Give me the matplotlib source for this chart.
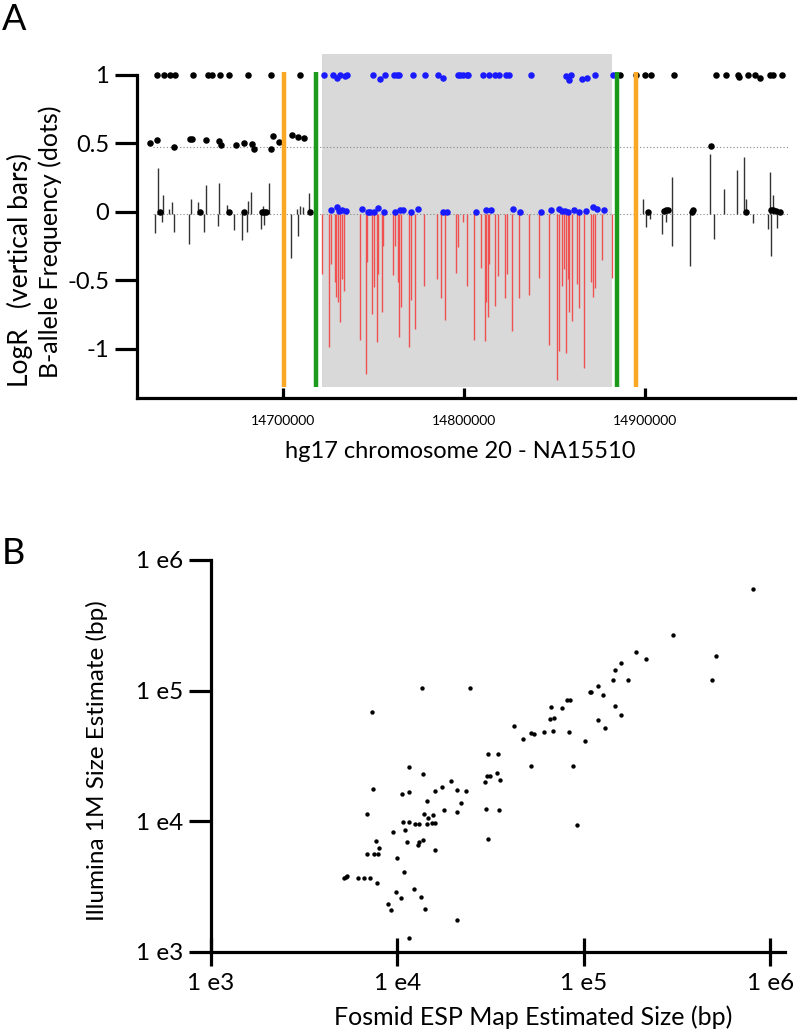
import numpy as np
import matplotlib
matplotlib.use("Agg")
import matplotlib.pyplot as plt

plt.rcParams['font.family'] = ['Lato', 'DejaVu Sans']

# ---------------- panel A data (hg17 chr20, NA15510) ----------------
# B-allele frequency, black dots (outside the deletion)
baf_black_pos = [14630800, 14634700, 14637800, 14640600, 14650400, 14658600, 14660800,
                 14665600, 14670500, 14681000, 14693700, 14709700,
                 14626600, 14630500, 14640200, 14649000, 14649800, 14657900, 14664700,
                 14666000, 14674400, 14678700, 14682900, 14684000, 14693500, 14694800,
                 14698100, 14705300, 14708600, 14711900,
                 14632200, 14654400, 14670200, 14678700, 14688700, 14689900, 14690800,
                 14715200,
                 14886200, 14894700, 14899800, 14903300, 14915800, 14939200, 14944400,
                 14951100, 14951900, 14956700, 14960400, 14963100, 14968600, 14970600,
                 14975600,
                 14936400,
                 14901500, 14910500, 14911600, 14912400, 14925800, 14926300, 14955400,
                 14969300, 14970600, 14971900, 14974100]
baf_black_val = [1, 1, 1, 1, 1, 1, 1, 1, 1, 1, 1, 1,
                 0.499, 0.521, 0.474, 0.531, 0.531, 0.526, 0.516, 0.485, 0.489, 0.504,
                 0.494, 0.460, 0.460, 0.550, 0.509, 0.560, 0.545, 0.536,
                 0, 0, 0, 0, 0, 0, 0, 0,
                 1, 1, 1, 1, 0.996, 1, 1, 1, 0.985, 1, 1, 0.978, 1, 1, 1,
                 0.477,
                 0, 0.008, 0.01, 0.015, 0, 0.01, 0, 0.01, 0.01, 0.005, 0]

# B-allele frequency, blue dots (inside the deletion)
baf_blue_pos = [14722900, 14727600, 14730100, 14731800, 14734400, 14735600, 14750000,
                14753500, 14756400, 14761400, 14762900, 14764300, 14772000, 14778700,
                14785800, 14788600, 14796500, 14797800, 14799600, 14801500, 14802400,
                14810300, 14814000, 14816900, 14819300, 14823200, 14825000, 14837000,
                14856300, 14857900, 14858900, 14864900, 14867700, 14872100, 14882400,
                14726600, 14730100, 14730900, 14732900, 14734900, 14743700, 14746900,
                14748300, 14750200, 14752700, 14755700, 14761900, 14764900, 14766200,
                14770800, 14774500, 14788300, 14790500, 14806500, 14812100, 14814900,
                14827200, 14831100, 14842500, 14848200, 14852200, 14854100, 14855600,
                14857200, 14860700, 14863300, 14867300, 14871000, 14873500, 14877100]
baf_blue_val = [1, 1, 0.974, 1, 0.988, 1, 1, 0.966, 1, 1, 1, 1, 1, 1,
                1, 0.978, 1, 1, 1, 1, 1, 1, 1, 1, 1, 1, 1, 1,
                0.993, 0.959, 1, 0.966, 0.974, 1, 1,
                0.01, 0.034, 0.003, 0.01, 0.003, 0.02, 0, 0, 0, 0.029, 0, 0, 0.012,
                0.012, 0, 0.017, 0, 0, 0, 0.01, 0.01, 0.02, 0, 0, 0.01, 0.017, 0.008,
                0.005, 0, 0.01, 0, 0.008, 0.034, 0.017, 0.01]

# LogR bars outside the deletion
logr_black_pos = [14629600, 14631000, 14633400, 14633800, 14637100, 14639100, 14639900,
                  14648500, 14649400, 14653400, 14656800, 14657700, 14664100, 14665000,
                  14669100, 14673300, 14677700, 14680100, 14681000, 14682300, 14687900,
                  14689300, 14689900, 14692600, 14704400, 14707700, 14708600, 14709400,
                  14711000, 14714300,
                  14898900, 14900200, 14902600, 14909400, 14911300, 14914600, 14914900,
                  14924800, 14935500, 14938100, 14943400, 14950800, 14954600, 14955700,
                  14959400, 14967900, 14968600, 14969500, 14970600, 14972800]
logr_black_val = [-0.158, 0.319, -0.077, 0.124, 0.02, 0.069, -0.146,
                  -0.236, 0.09, 0.069, -0.150, 0.195, -0.102, 0.207,
                  0.051, -0.131, -0.204, -0.150, 0.08, 0.141, -0.126,
                  0.044, -0.097, 0.207, -0.338, 0.02, -0.175, 0.044,
                  0.032, 0.136,
                  0.093, -0.114, -0.053, -0.163, -0.073, -0.248, 0.251,
                  -0.399, 0.421, -0.199, 0.166, 0.304, 0.401, 0.093,
                  -0.082, -0.126, 0.288, -0.321, 0.124, -0.119]

# LogR bars inside the deletion
logr_red_pos = [14721800, 14725700, 14726600, 14728800, 14729600, 14730500, 14731400,
                14732700, 14733600, 14742800, 14745900, 14746700, 14749300, 14750200,
                14751900, 14752700, 14754600, 14755500, 14760800, 14761900, 14763800,
                14764300, 14765300, 14769800, 14770800, 14773100, 14777900, 14785100,
                14787300, 14789400, 14795600, 14796700, 14799600, 14801800, 14805500,
                14809500, 14811400, 14812300, 14813100, 14814000, 14816900, 14818600,
                14822500, 14823700, 14826300, 14830300, 14836000, 14841400, 14847100,
                14851100, 14852600, 14853900, 14855300, 14856100, 14857200, 14857900,
                14859600, 14862200, 14863600, 14866400, 14870200, 14871000, 14872400,
                14876300, 14881500]
logr_red_val = [-0.455, -0.985, -0.382, -0.515, -0.625, -0.661, -0.807,
                -0.491, -0.581, -0.937, -1.185, -0.369, -0.747, -0.552,
                -0.953, -0.455, -0.734, -0.248, -0.460, -0.248, -0.515,
                -0.917, -0.698, -0.985, -0.642, -0.856, -0.545, -0.491,
                -0.630, -0.791, -0.447, -0.260, -0.077, -0.545, -0.934,
                -0.413, -0.942, -0.661, -0.771, -0.382, -0.686, -0.467,
                -0.628, -0.455, -0.873, -0.630, -0.608, -0.486, -0.971,
                -1.226, -1.015, -0.540, -0.418, -1.031, -0.491, -0.734,
                -0.800, -0.528, -0.705, -1.143, -0.515, -0.620, -0.559,
                -0.350, -0.486]

deletion_region = (14721700, 14881600)
inner_breaks = [14718200, 14884600]   # green
outer_breaks = [14700500, 14894700]   # orange

a_xticks = [14700000, 14800000, 14900000]
a_xticklabels = ['14700000', '14800000', '14900000']
a_yticks = [1, 0.5, 0, -0.5, -1]
a_yticklabels = ['1', '0.5', '0', '-0.5', '-1']

# ---------------- panel B data ----------------
fosmid_size = [11500, 13700, 19300, 17300, 16000, 20900, 23300, 7390, 10600, 11600,
               14500, 21900, 6890, 17800, 20900, 13900, 14600, 15500, 10700, 11600,
               12500, 13100, 14500, 15300, 16000, 11000, 9460, 7670, 11300, 13800,
               13100, 12900, 8020, 6890, 7540, 7920, 16000, 9940, 10800, 5180,
               5310, 5400, 6180, 6630, 7150, 7790, 9890, 10500, 12300, 13400,
               8930, 9300, 14100, 20900, 11500, 7300, 13600, 24500, 42300, 47300,
               52400, 54000, 61100, 66600, 76600, 81500, 84200, 66300, 69400, 68800,
               83500, 101700, 107800, 109200, 119500, 127600, 119000, 130300, 30600, 34600,
               52400, 87400, 30100, 31400, 34200, 29600, 35500, 30000, 35000, 30700,
               91800, 810500, 302800, 191000, 216900, 513200, 158100, 146900, 143300, 173700,
               484300, 146900, 158100]
illumina_size = [26100, 23200, 20300, 18300, 17000, 17400, 17100, 17700, 16100, 16700,
                 14300, 13800, 11300, 12200, 11700, 11300, 10600, 11100, 9970, 9970,
                 9500, 9500, 9500, 9670, 9720, 8590, 8350, 7130, 6960, 7250,
                 6960, 6640, 6300, 5600, 5600, 5600, 6080, 5280, 4100, 3710,
                 3750, 3820, 3710, 3710, 3710, 3360, 2880, 2580, 3020, 2640,
                 2350, 2090, 2120, 1770, 1290, 68800, 104500, 104500, 53500, 43000,
                 47500, 46400, 47900, 74800, 73800, 84600, 84600, 60200, 61900, 49000,
                 48100, 41100, 96900, 96900, 108800, 92300, 59800, 51900, 32500, 32500,
                 26600, 26600, 22400, 22400, 23400, 20000, 20900, 12400, 12200, 7330,
                 9450, 598800, 267500, 197100, 175200, 184700, 162400, 144300, 119700, 121000,
                 119700, 76100, 64600]

b_ticks = [1e3, 1e4, 1e5, 1e6]
b_ticklabels = ['1 e3', '1 e4', '1 e5', '1 e6']

W, H = 800, 1033
fig = plt.figure(figsize=(W / 100, H / 100), dpi=100)

def box(l, t, r, b):
    return [l / W, 1 - b / H, (r - l) / W, (b - t) / H]

# ================= panel A =================
axA = fig.add_axes(box(137, 54, 795, 398))
axA.set_xlim(14619600, 14982600)
axA.set_ylim(-1.36, 1.15)

axA.axvspan(deletion_region[0], deletion_region[1], ymin=0.032, ymax=1.0,
            color='#d9d9d9', lw=0, zorder=0)
axA.axhline(0.47, xmin=0.025, xmax=0.99, color='#888888', ls=(0, (1, 2)), lw=0.8, zorder=1)
axA.axhline(-0.018, xmin=0.025, xmax=0.99, color='#888888', ls=(0, (1, 2)), lw=0.8, zorder=1)

base = -0.018
axA.vlines(logr_black_pos, base, logr_black_val, colors='#333333', lw=1.0, zorder=2)
axA.vlines(logr_red_pos, base, logr_red_val, colors='#f05050', lw=1.0, zorder=2)

axA.scatter(baf_black_pos, baf_black_val, s=22, c='black', lw=0, zorder=3)
axA.scatter(baf_blue_pos, baf_blue_val, s=22, c='#1a1aff', lw=0, zorder=3)

for xb in outer_breaks:
    axA.plot([xb, xb], [-1.28, 1.02], color='#f9a825', lw=3.2, zorder=4, solid_capstyle='butt')
for xb in inner_breaks:
    axA.plot([xb, xb], [-1.28, 1.02], color='#1c9a1c', lw=3.2, zorder=4, solid_capstyle='butt')

axA.spines['top'].set_visible(False)
axA.spines['right'].set_visible(False)
axA.spines['left'].set_linewidth(2.3)
axA.spines['bottom'].set_linewidth(2.3)
axA.spines['left'].set_bounds(-1.36, 1.0)
axA.set_yticks(a_yticks)
axA.set_yticklabels(a_yticklabels)
axA.set_xticks(a_xticks)
axA.set_xticklabels(a_xticklabels)
axA.tick_params(axis='y', direction='out', length=16, width=2.3, pad=4, labelsize=17)
axA.tick_params(axis='x', direction='in', length=7, width=2.3, pad=12, labelsize=10)

fig.text(20 / W, 1 - 270 / H, 'LogR   (vertical bars)', rotation=90, ha='center', va='center', fontsize=19)
fig.text(50 / W, 1 - 242 / H, 'B-allele Frequency (dots)', rotation=90, ha='center', va='center', fontsize=18)
fig.text(460 / W, 1 - 451 / H, 'hg17 chromosome 20 - NA15510', ha='center', va='center', fontsize=17)
fig.text(2 / W, 1 - 20 / H, 'A', ha='left', va='center', fontsize=26)

# ================= panel B =================
axB = fig.add_axes(box(210.8, 560, 785, 952))
axB.set_xscale('log')
axB.set_yscale('log')
axB.set_xlim(1e3, 1.2e6)
axB.set_ylim(1e3, 1e6)
axB.scatter(fosmid_size, illumina_size, s=10, c='black', lw=0, zorder=3)

axB.spines['top'].set_visible(False)
axB.spines['right'].set_visible(False)
axB.spines['left'].set_linewidth(2.3)
axB.spines['bottom'].set_linewidth(2.3)
axB.set_xticks(b_ticks)
axB.set_xticklabels(b_ticklabels)
axB.set_yticks(b_ticks)
axB.set_yticklabels(b_ticklabels)
axB.minorticks_off()
axB.tick_params(axis='y', direction='out', length=16, width=2.3, pad=4, labelsize=17.5)
axB.tick_params(axis='x', direction='inout', length=20, width=2.3, pad=5, labelsize=17.5)

fig.text(97 / W, 1 - 761 / H, 'Illumina 1M Size Estimate (bp)', rotation=90, ha='center', va='center', fontsize=17.5)
fig.text(533 / W, 1 - 1017 / H, 'Fosmid ESP Map Estimated Size (bp)', ha='center', va='center', fontsize=18)
fig.text(2 / W, 1 - 553 / H, 'B', ha='left', va='center', fontsize=26)

fig.savefig('out.png', dpi=100)
